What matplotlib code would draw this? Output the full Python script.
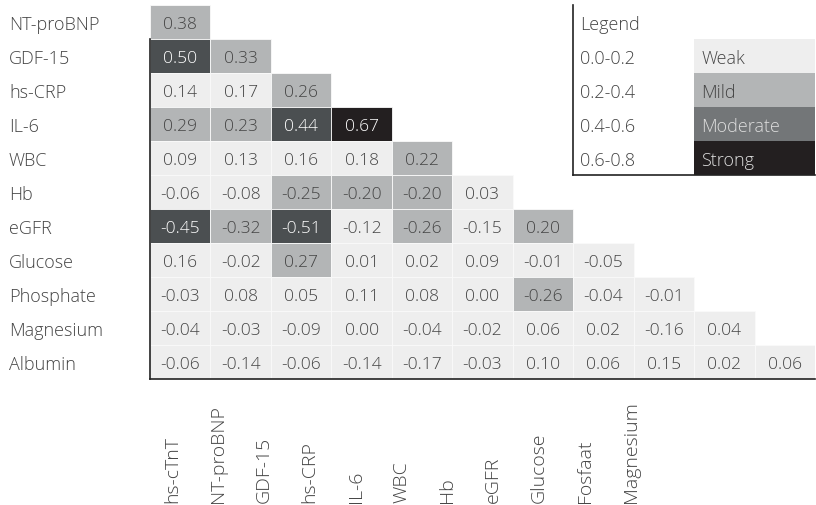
import numpy as np
import matplotlib
matplotlib.use("Agg")
import matplotlib.pyplot as plt
from matplotlib.colors import ListedColormap, BoundaryNorm
from matplotlib.patches import Rectangle
import matplotlib.transforms as mtransforms

# Correlation coefficients (lower triangle)
row_labels = ["NT-proBNP", "GDF-15", "hs-CRP", "IL-6", "WBC", "Hb", "eGFR",
              "Glucose", "Phosphate", "Magnesium", "Albumin"]
col_labels = ["hs-cTnT", "NT-proBNP", "GDF-15", "hs-CRP", "IL-6", "WBC", "Hb",
              "eGFR", "Glucose", "Fosfaat", "Magnesium"]
corr_rows = [
    [0.38],
    [0.50, 0.33],
    [0.14, 0.17, 0.26],
    [0.29, 0.23, 0.44, 0.67],
    [0.09, 0.13, 0.16, 0.18, 0.22],
    [-0.06, -0.08, -0.25, -0.20, -0.20, 0.03],
    [-0.45, -0.32, -0.51, -0.12, -0.26, -0.15, 0.20],
    [0.16, -0.02, 0.27, 0.01, 0.02, 0.09, -0.01, -0.05],
    [-0.03, 0.08, 0.05, 0.11, 0.08, 0.00, -0.26, -0.04, -0.01],
    [-0.04, -0.03, -0.09, 0.00, -0.04, -0.02, 0.06, 0.02, -0.16, 0.04],
    [-0.06, -0.14, -0.06, -0.14, -0.17, -0.03, 0.10, 0.06, 0.15, 0.02, 0.06],
]

# Legend categories
legend_ranges = ["0.0-0.2", "0.2-0.4", "0.4-0.6", "0.6-0.8"]
legend_names = ["Weak", "Mild", "Moderate", "Strong"]
bounds = [0.0, 0.2, 0.4, 0.6, 1.0]

cell_colors = ["#eeeeee", "#b3b5b6", "#4b4f51", "#231f20"]
legend_colors = ["#eeeeee", "#b3b5b6", "#737678", "#231f20"]
text_dark = "#444444"
FS = 12.5
FW = "light"
DY = 0.55  # vertical text offset inside a row

plt.rcParams["font.family"] = ["Open Sans", "DejaVu Sans"]

n = len(row_labels)
W, H = 816, 506
fig = plt.figure(figsize=(W / 100, H / 100), dpi=100)
ax = fig.add_axes([150 / W, (H - 380) / H, 665 / W, 374 / H])

cmap = ListedColormap(cell_colors)
norm = BoundaryNorm(bounds, cmap.N)

# cells, one rectangle per coefficient
for i, r in enumerate(corr_rows):
    for j, v in enumerate(r):
        ax.add_patch(Rectangle((j, i), 1, 1, facecolor=cmap(norm(abs(v))),
                               edgecolor="#fafafa", linewidth=0.6))
        c = "white" if abs(v) >= 0.4 else text_dark
        ax.text(j + 0.5, i + DY, f"{v:.2f}", ha="center", va="center",
                fontsize=FS, color=c, fontweight=FW)

ax.set_xlim(0, len(col_labels))
ax.set_ylim(n, 0)
ax.axis("off")

# axis lines
ax.plot([0, 0], [1, n], color="#222222", lw=1.2, clip_on=False)
ax.plot([0, len(col_labels)], [n, n], color="#222222", lw=1.2, clip_on=False)

# row labels
trans = mtransforms.blended_transform_factory(fig.transFigure, ax.transData)
for i, lab in enumerate(row_labels):
    ax.text(9 / W, i + DY, lab, transform=trans, ha="left", va="center",
            fontsize=13, color=text_dark, fontweight=FW)

# column labels
for k, lab in enumerate(col_labels):
    fig.text((172 + k * 45.9) / W, 3 / H, lab, rotation=90, ha="center",
             va="bottom", fontsize=14, color=text_dark, fontweight=FW)

# legend block
ax.text(7.12, DY, "Legend", ha="left", va="center", fontsize=13,
        color=text_dark, fontweight=FW, zorder=4)
for k in range(len(legend_names)):
    y = k + 1
    ax.add_patch(Rectangle((9, y), 2, 1, facecolor=legend_colors[k],
                           edgecolor="none", zorder=3))
    ax.text(7.12, y + DY, legend_ranges[k], ha="left", va="center",
            fontsize=13, color=text_dark, fontweight=FW, zorder=4)
    tc = "#dddddd" if k >= 2 else text_dark
    ax.text(9.12, y + DY, legend_names[k], ha="left", va="center",
            fontsize=13, color=tc, fontweight=FW, zorder=4)
ax.plot([7, 7], [0, 5], color="#222222", lw=1.2, zorder=5, clip_on=False)
ax.plot([7, 11], [5, 5], color="#222222", lw=1.2, zorder=5, clip_on=False)

fig.savefig("out.png", dpi=100)
